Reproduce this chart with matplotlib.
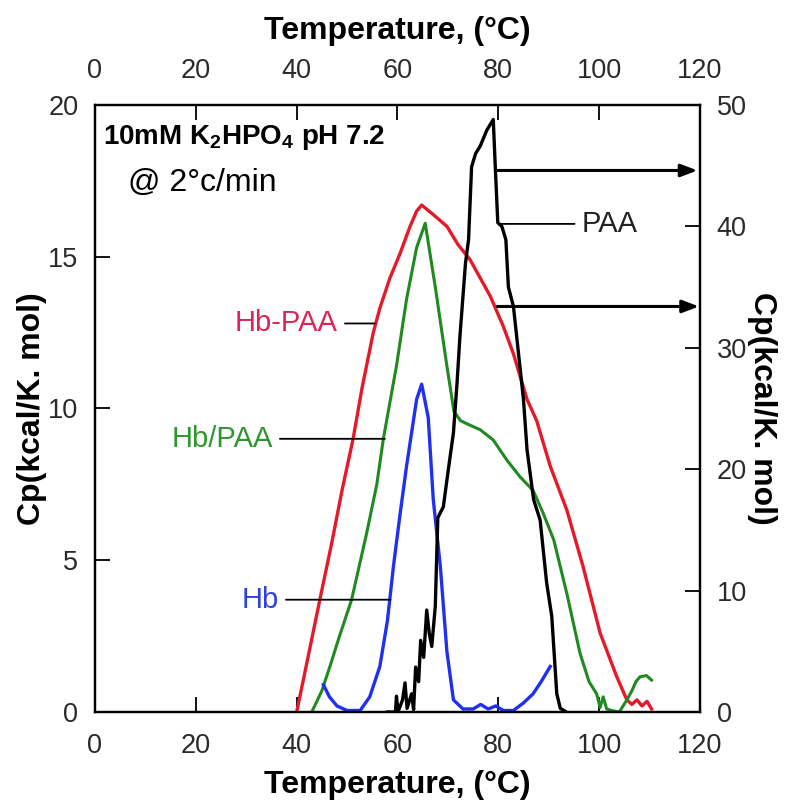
import numpy as np
import matplotlib
matplotlib.use("Agg")
import matplotlib.pyplot as plt

plt.rcParams['font.family'] = ['Liberation Sans', 'DejaVu Sans']
plt.rcParams['mathtext.fontset'] = 'custom'
plt.rcParams['mathtext.rm'] = 'Liberation Sans'
plt.rcParams['mathtext.bf'] = 'Liberation Sans:bold'

# Hb-PAA (left axis)
t_hbpaa = [40, 42, 44.6, 47, 49, 51.2, 53, 55.2, 56.5, 58.5, 60.5, 62.5, 63.8, 64.8, 67,
           69.8, 72, 74.4, 78.4, 81, 83, 85.7, 87.6, 90.3, 93.6, 96.8, 100.2, 103.5,
           105.5, 106.5, 107.5, 108.5, 109.5, 110.4]
cp_hbpaa = [0, 1.6, 3.7, 5.6, 7.3, 9.0, 10.7, 12.5, 13.3, 14.3, 15.1, 16.0, 16.5, 16.7,
            16.4, 16.0, 15.4, 14.9, 13.7, 12.7, 11.8, 10.3, 9.6, 8.1, 6.65, 4.8, 2.6,
            1.16, 0.4, 0.25, 0.4, 0.2, 0.35, 0.1]

# Hb/PAA (left axis)
t_mix = [43, 45, 46.6, 48.5, 50.9, 53.9, 55.9, 57.2, 59.8, 61.8, 63.8, 65.5, 67.5, 69.8,
         71.2, 72.5, 73.7, 76.4, 79, 81.7, 84.3, 86.9, 88.9, 91, 93.6, 96.2, 98, 99.5,
         100.2, 100.8, 101.5, 102.5, 104, 105.5, 106.5, 107.3, 108.1, 109.4, 110.4]
cp_mix = [0, 0.7, 1.5, 2.5, 3.7, 5.9, 7.5, 9.0, 11.4, 13.6, 15.3, 16.1, 14.0, 11.4, 9.9,
          9.6, 9.5, 9.3, 8.96, 8.3, 7.75, 7.3, 6.55, 5.67, 3.9, 1.94, 1.0, 0.6, 0.15,
          0.5, 0.1, 0.05, 0.0, 0.4, 0.7, 1.0, 1.16, 1.2, 1.05]

# Hb (left axis)
t_hb = [45.3, 46.5, 48, 50, 52.6, 54.5, 56.5, 58, 59.2, 60.5, 61.8, 63.8, 64.8, 66.1,
        67.1, 68.5, 69.8, 71.1, 73, 75, 76.5, 78, 79.5, 81, 83, 85, 86.9, 88.5, 90.3]
cp_hb = [0.9, 0.5, 0.2, 0.05, 0.05, 0.5, 1.5, 3.0, 4.8, 6.5, 8.1, 10.3, 10.8, 9.7, 7.0,
         4.8, 2.0, 0.4, 0.1, 0.1, 0.25, 0.1, 0.2, 0.05, 0.05, 0.3, 0.6, 1.0, 1.5]

# PAA (right axis)
t_paa = [58, 59.6, 59.8, 60.1, 61, 61.5, 61.9, 62.8, 63.2, 63.6, 64.2, 64.6, 65.2, 65.8,
         66.3, 66.8, 67.5, 68, 69.1, 70, 71.1, 71.8, 72.4, 73.5, 74.1, 74.7, 75.5, 76.4,
         77.7, 79, 79.4, 79.9, 80.7, 81.5, 82, 83, 84.3, 85, 85.7, 87, 88.3, 89.6, 90.6,
         91.6, 92.3, 93.5]
cp_paa = [0, 0, 1.3, 0, 1.0, 2.4, 0.3, 1.5, 0.2, 3.7, 2.5, 5.9, 4.5, 8.4, 6.5, 5.4, 8.7,
          16, 16.9, 19.7, 23, 27, 31, 37, 38.9, 44.9, 46, 46.6, 47.9, 48.8, 44.9, 40.3,
          40, 38.9, 35, 33.4, 28.4, 25.7, 21.6, 17.5, 15.8, 10.6, 7.9, 1.5, 0.3, 0]

temp_ticks = [0, 20, 40, 60, 80, 100, 120]
left_ticks = [0, 5, 10, 15, 20]
right_ticks = [0, 10, 20, 30, 40, 50]

red = '#e41a2a'
green = '#1f8a1f'
blue = '#2030f0'

fig = plt.figure(figsize=(7.87, 8.02), dpi=100)
ax = fig.add_axes([0.1207, 0.1122, 0.7687, 0.757])
ax2 = ax.twinx()

ax.plot(t_hbpaa, cp_hbpaa, color=red, lw=2.4)
ax.plot(t_mix, cp_mix, color=green, lw=2.2)
ax.plot(t_hb, cp_hb, color=blue, lw=2.4)
ax2.plot(t_paa, cp_paa, color='black', lw=2.4)

ax.set_xlim(0, 120)
ax.set_ylim(0, 20)
ax2.set_ylim(0, 50)
ax.set_xticks(temp_ticks)
ax.set_yticks(left_ticks)
ax2.set_yticks(right_ticks)

lab_col = '#2a2a2a'
ax.tick_params(axis='x', direction='in', length=11, width=1.3, labelsize=19.5,
               labelcolor=lab_col, pad=15, top=True, labeltop=True)
ax.tick_params(axis='y', direction='in', length=11, width=1.3, labelsize=19.5,
               labelcolor=lab_col, pad=12)
ax2.tick_params(axis='y', direction='in', length=11, width=1.3, labelsize=19.5,
                labelcolor=lab_col, pad=12)
for a in (ax, ax2):
    for s in a.spines.values():
        s.set_linewidth(1.6)

ax.set_xlabel('Temperature, (°C)', fontsize=23, fontweight='bold', labelpad=8)
ax.set_ylabel('Cp(kcal/K. mol)', fontsize=23, fontweight='bold', labelpad=1)
ax2.set_ylabel('Cp(kcal/K. mol)', fontsize=23, fontweight='bold', rotation=270,
               va='bottom', labelpad=0)
fig.text(0.1207 + 0.7687 / 2, 0.961, 'Temperature, (°C)', fontsize=23, fontweight='bold',
         ha='center', va='center')

ax.text(0.013, 0.947, r'10mM K$_\mathbf{2}$HPO$_\mathbf{4}$ pH 7.2', transform=ax.transAxes,
        fontsize=20, fontweight='bold', va='center', ha='left')
ax.text(0.055, 0.871, '@ 2°c/min', transform=ax.transAxes, fontsize=23,
        va='center', ha='left')

# curve labels with leader lines
lead = dict(arrowstyle='-', color='black', lw=1.3, shrinkA=3, shrinkB=0)
ax.annotate('Hb-PAA', xy=(55.5, 12.8), xytext=(48.2, 12.8), color='#dc2458',
            fontsize=21, ha='right', va='center', arrowprops=lead)
ax.annotate('Hb/PAA', xy=(57.5, 9.0), xytext=(35.3, 9.0), color='#2e962e',
            fontsize=21, ha='right', va='center', arrowprops=lead)
ax.annotate('Hb', xy=(58.6, 3.7), xytext=(36.5, 3.7), color='#3040e0',
            fontsize=21, ha='right', va='center', arrowprops=lead)
ax2.annotate('PAA', xy=(80.5, 40.2), xytext=(96.5, 40.2), color='#222222',
             fontsize=21, ha='left', va='center', arrowprops=lead)

arr = dict(arrowstyle='-|>,head_length=1.0,head_width=0.38', color='black', lw=2.2,
           shrinkA=0, shrinkB=0)
ax2.annotate('', xy=(119.5, 44.6), xytext=(79.8, 44.6), arrowprops=arr)
ax2.annotate('', xy=(119.8, 33.4), xytext=(79.8, 33.4), arrowprops=arr)

fig.savefig('out.png', dpi=100)
